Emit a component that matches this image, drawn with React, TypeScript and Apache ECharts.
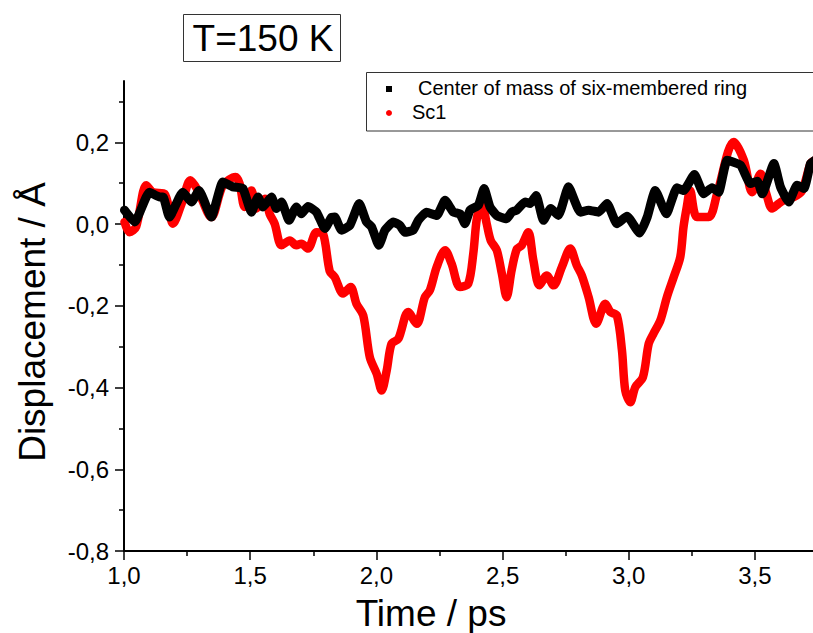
import React, { useEffect, useRef } from "react";
import * as echarts from "echarts";

const ringT = [1.002, 1.042, 1.101, 1.141, 1.155, 1.18, 1.233, 1.267, 1.297, 1.346, 1.392, 1.432, 1.471, 1.505, 1.531, 1.551, 1.584, 1.604, 1.624, 1.654, 1.683, 1.703, 1.729, 1.763, 1.796, 1.822, 1.835, 1.862, 1.895, 1.932, 1.961, 1.981, 2.01, 2.034, 2.067, 2.093, 2.113, 2.146, 2.166, 2.199, 2.239, 2.272, 2.305, 2.331, 2.351, 2.371, 2.404, 2.427, 2.45, 2.477, 2.516, 2.536, 2.556, 2.589, 2.609, 2.633, 2.662, 2.691, 2.721, 2.761, 2.808, 2.841, 2.88, 2.914, 2.953, 2.993, 3.043, 3.073, 3.105, 3.149, 3.191, 3.217, 3.26, 3.297, 3.33, 3.356, 3.39, 3.443, 3.482, 3.509, 3.529, 3.575, 3.601, 3.634, 3.667, 3.694, 3.72, 3.735];
const ringV = [0.034, 0.005, 0.078, 0.066, 0.066, 0.017, 0.078, 0.054, 0.082, 0.017, 0.103, 0.091, 0.087, 0.029, 0.066, 0.042, 0.066, 0.038, 0.054, 0.009, 0.042, 0.025, 0.043, 0.029, -0.011, 0.016, 0.017, -0.015, -0.003, 0.05, 0.005, -0.007, -0.052, -0.015, 0.005, -0.003, -0.02, -0.015, 0.009, 0.029, 0.021, 0.058, 0.029, 0.025, 0.001, 0.034, 0.046, 0.087, 0.042, 0.021, 0.013, 0.029, 0.034, 0.054, 0.05, 0.07, 0.009, 0.038, 0.021, 0.091, 0.029, 0.034, 0.029, 0.05, 0.001, 0.019, -0.022, 0.017, 0.082, 0.025, 0.089, 0.082, 0.121, 0.074, 0.089, 0.078, 0.156, 0.144, 0.099, 0.105, 0.074, 0.148, 0.091, 0.054, 0.095, 0.087, 0.148, 0.155];

const sc1T = [1.002, 1.022, 1.048, 1.088, 1.114, 1.161, 1.194, 1.233, 1.263, 1.293, 1.346, 1.392, 1.442, 1.458, 1.478, 1.505, 1.525, 1.558, 1.577, 1.597, 1.624, 1.657, 1.683, 1.703, 1.729, 1.763, 1.789, 1.815, 1.835, 1.868, 1.898, 1.921, 1.948, 1.974, 2.001, 2.021, 2.041, 2.06, 2.087, 2.126, 2.16, 2.192, 2.212, 2.239, 2.272, 2.298, 2.331, 2.364, 2.384, 2.398, 2.417, 2.437, 2.453, 2.477, 2.497, 2.516, 2.536, 2.556, 2.576, 2.602, 2.622, 2.646, 2.675, 2.702, 2.735, 2.768, 2.794, 2.814, 2.841, 2.871, 2.907, 2.927, 2.953, 2.973, 2.986, 3.006, 3.026, 3.056, 3.079, 3.098, 3.125, 3.151, 3.178, 3.204, 3.217, 3.23, 3.243, 3.27, 3.317, 3.35, 3.416, 3.456, 3.489, 3.522, 3.545, 3.568, 3.594, 3.627, 3.654, 3.687, 3.72, 3.735];
const sc1V = [0.005, -0.02, -0.007, 0.095, 0.078, 0.074, 0.001, 0.058, 0.107, 0.082, 0.017, 0.095, 0.115, 0.099, 0.042, 0.082, 0.038, 0.062, 0.025, 0.001, -0.052, -0.04, -0.052, -0.048, -0.06, -0.02, -0.024, -0.115, -0.13, -0.17, -0.154, -0.195, -0.224, -0.326, -0.366, -0.407, -0.358, -0.293, -0.281, -0.215, -0.244, -0.179, -0.162, -0.105, -0.064, -0.097, -0.154, -0.146, -0.072, 0.013, 0.054, 0.001, -0.04, -0.064, -0.121, -0.179, -0.113, -0.062, -0.052, -0.02, -0.089, -0.15, -0.126, -0.15, -0.105, -0.06, -0.101, -0.126, -0.179, -0.244, -0.195, -0.215, -0.224, -0.309, -0.407, -0.436, -0.399, -0.375, -0.293, -0.268, -0.236, -0.179, -0.13, -0.081, -0.007, 0.042, 0.082, 0.017, 0.017, 0.074, 0.201, 0.156, 0.078, 0.123, 0.074, 0.038, 0.05, 0.062, 0.066, 0.082, 0.148, 0.155];

const xMajor = [1.0, 1.5, 2.0, 2.5, 3.0, 3.5];
const xMinor = [1.25, 1.75, 2.25, 2.75, 3.25];
const yMajor = [-0.8, -0.6, -0.4, -0.2, 0.0, 0.2];
const yMinor = [-0.7, -0.5, -0.3, -0.1, 0.1, 0.3];

const seriesNames = ["Center of mass of six-membered ring", "Sc1"];
const titleText = "T=150 K";
const xTitle = "Time / ps";
const yTitle = "Displacement / Å";

const FONT = "'Liberation Sans', Arial, sans-serif";
const fmt = (v: number) => v.toFixed(1).replace(".", ",");

export default function App() {
  const ref = useRef<HTMLDivElement>(null);
  useEffect(() => {
    if (!ref.current) return;
    const chart = echarts.init(ref.current, null, { renderer: "svg" });
    const xMin = 1.0, xMax = 3.73, yMin = -0.8, yMax = 0.35;
    const axisCommonX = { type: "value", min: xMin, max: xMax, splitLine: { show: false } };
    const axisCommonY = { type: "value", min: yMin, max: yMax, splitLine: { show: false } };
    chart.setOption({
      animation: false,
      backgroundColor: "#ffffff",
      grid: { left: 124, top: 81, right: 0, bottom: 82, containLabel: false },
      xAxis: [
        {
          ...axisCommonX,
          axisLine: { show: true, onZero: false, lineStyle: { color: "#000", width: 2 } },
          axisTick: { show: true, customValues: xMajor, length: 9, lineStyle: { color: "#000", width: 1.5 } },
          axisLabel: { show: true, customValues: xMajor, formatter: fmt, margin: 12, color: "#000", fontSize: 24, fontFamily: FONT },
        },
        {
          ...axisCommonX,
          position: "bottom",
          axisLine: { show: false, onZero: false },
          axisTick: { show: true, customValues: xMinor, length: 5, lineStyle: { color: "#000", width: 1.5 } },
          axisLabel: { show: false },
        },
      ],
      yAxis: [
        {
          ...axisCommonY,
          axisLine: { show: true, onZero: false, lineStyle: { color: "#000", width: 2 } },
          axisTick: { show: true, customValues: yMajor, length: 9, lineStyle: { color: "#000", width: 1.5 } },
          axisLabel: { show: true, customValues: yMajor, formatter: fmt, margin: 15, color: "#000", fontSize: 24, fontFamily: FONT },
        },
        {
          ...axisCommonY,
          position: "left",
          axisLine: { show: false, onZero: false },
          axisTick: { show: true, customValues: yMinor, length: 5, lineStyle: { color: "#000", width: 1.5 } },
          axisLabel: { show: false },
        },
      ],
      series: [
        {
          name: seriesNames[1],
          type: "line",
          data: sc1T.map((t, i) => [t, sc1V[i]]),
          showSymbol: false,
          smooth: 0.3,
          lineStyle: { color: "#ff0000", width: 8.5, cap: "round", join: "round" },
          z: 2,
        },
        {
          name: seriesNames[0],
          type: "line",
          data: ringT.map((t, i) => [t, ringV[i]]),
          showSymbol: false,
          smooth: 0.15,
          lineStyle: { color: "#000000", width: 9, cap: "round", join: "round" },
          z: 3,
        },
      ],
      graphic: [
        { type: "rect", shape: { x: 183.5, y: 14.5, width: 157, height: 47 }, style: { fill: "#fff", stroke: "#333", lineWidth: 1 } },
        { type: "text", x: 263, y: 38, style: { text: titleText, font: `37px ${FONT}`, fill: "#000", align: "center", verticalAlign: "middle" } },
        { type: "rect", shape: { x: 366.5, y: 72.5, width: 460, height: 58.5 }, style: { fill: "#fff", stroke: "#333", lineWidth: 1 } },
        { type: "rect", shape: { x: 386, y: 86, width: 6, height: 6 }, style: { fill: "#000" } },
        { type: "circle", shape: { cx: 389, cy: 113, r: 3 }, style: { fill: "#ff0000" } },
        { type: "text", x: 418, y: 88, style: { text: seriesNames[0], font: `20px ${FONT}`, fill: "#000", align: "left", verticalAlign: "middle" } },
        { type: "text", x: 412, y: 112, style: { text: seriesNames[1], font: `20px ${FONT}`, fill: "#000", align: "left", verticalAlign: "middle" } },
        { type: "text", x: 431, y: 613, style: { text: xTitle, font: `37px ${FONT}`, fill: "#000", align: "center", verticalAlign: "middle" } },
        { type: "text", x: 32, y: 322, rotation: Math.PI / 2, style: { text: yTitle, font: `37px ${FONT}`, fill: "#000", align: "center", verticalAlign: "middle" } },
      ],
    });
    return () => chart.dispose();
  }, []);
  return <div ref={ref} style={{ width: 813, height: 633, position: "absolute", left: 0, top: 0 }} />;
}
